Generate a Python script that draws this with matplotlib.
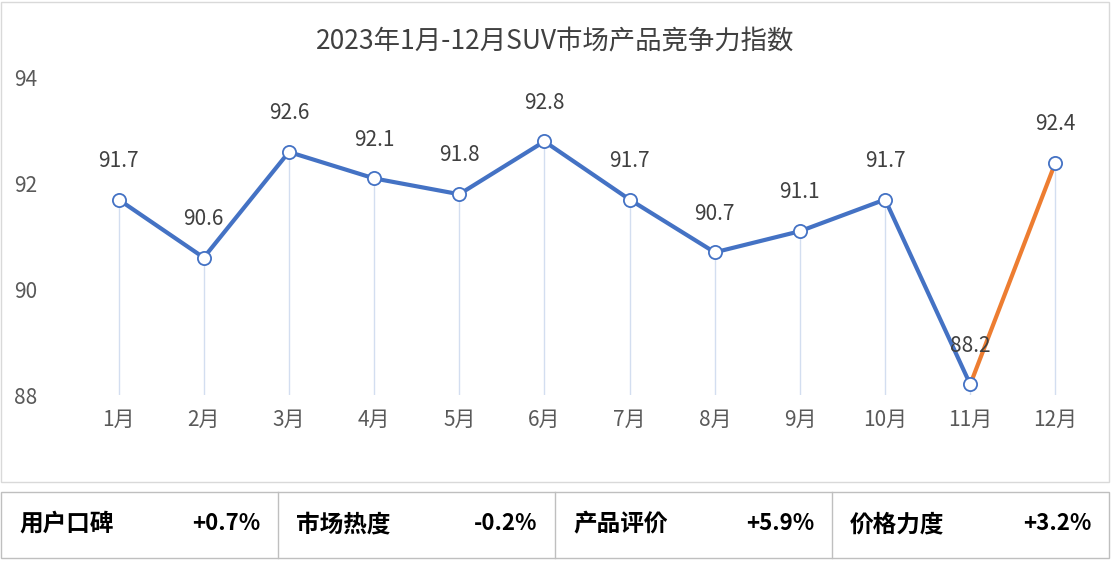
import matplotlib.pyplot as plt
from matplotlib.patches import Rectangle

plt.rcParams['font.family'] = ['Noto Sans CJK SC', 'Noto Sans CJK JP', 'Noto Sans CJK TC', 'DejaVu Sans']

months = ['1月', '2月', '3月', '4月', '5月', '6月', '7月', '8月', '9月', '10月', '11月', '12月']
index_vals = [91.7, 90.6, 92.6, 92.1, 91.8, 92.8, 91.7, 90.7, 91.1, 91.7, 88.2, 92.4]
factor_names = ['用户口碑', '市场热度', '产品评价', '价格力度']
factor_changes = ['+0.7%', '-0.2%', '+5.9%', '+3.2%']

W, H = 1111, 561
fig = plt.figure(figsize=(W / 100, H / 100), dpi=100)
blue = '#4472C4'
orange = '#ED7D31'

# chart frame
fig.patches.append(Rectangle((1 / W, 1 - 482 / H), 1108 / W, 480 / H, transform=fig.transFigure,
                             fill=False, edgecolor='#D9D9D9', lw=1))

ax = fig.add_axes([76 / W, 1 - 395 / H, 1022 / W, 317 / H])
x = list(range(len(months)))
ax.set_xlim(-0.5, 11.5)
ax.set_ylim(88, 94)
for i, v in enumerate(index_vals):
    ax.vlines(i, 88, v, color='#D3DEF0', lw=1, zorder=1)
ax.plot(x[:11], index_vals[:11], color=blue, lw=3, zorder=2)
ax.plot(x[10:], index_vals[10:], color=orange, lw=3, zorder=2)
ax.scatter(x, index_vals, s=90, facecolor='white', edgecolor=blue, lw=1.3, zorder=3)
for i, v in enumerate(index_vals):
    ax.annotate(f'{v:.1f}', (i, v), xytext=(0, 20), textcoords='offset points',
                ha='center', va='bottom', fontsize=15, color='#404040')
ax.set_yticks([88, 90, 92, 94])
ax.set_xticks(x)
ax.set_xticklabels(months)
ax.tick_params(axis='both', length=0, labelsize=15, labelcolor='#595959')
ax.tick_params(axis='y', pad=28)
ax.tick_params(axis='x', pad=10)
for s in ax.spines.values():
    s.set_visible(False)
fig.text(0.5, 1 - 42 / H, '2023年1月-12月SUV市场产品竞争力指数', ha='center', va='center',
         fontsize=19, color='#404040')

# bottom table
cw = 1108 / 4
fig.patches.append(Rectangle((1 / W, 1 - 558 / H), 1108 / W, 66 / H, transform=fig.transFigure,
                             fill=False, edgecolor='#BFBFBF', lw=1))
for k, (name, chg) in enumerate(zip(factor_names, factor_changes)):
    x0 = 1 + k * cw
    if k > 0:
        fig.add_artist(plt.Line2D([x0 / W, x0 / W], [1 - 558 / H, 1 - 492 / H], color='#BFBFBF', lw=1))
    fig.text((x0 + 18) / W, 1 - 524 / H, name, ha='left', va='center', fontsize=17, fontweight='bold')
    fig.text((x0 + cw - 18) / W, 1 - 524 / H, chg, ha='right', va='center', fontsize=16, fontweight='bold')

fig.savefig('out.png', dpi=100)
